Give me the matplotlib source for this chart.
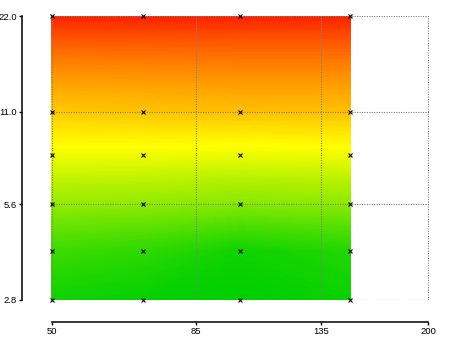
import numpy as np
import matplotlib
matplotlib.use("Agg")
import matplotlib.pyplot as plt
from matplotlib.colors import LinearSegmentedColormap

plt.rcParams['font.family'] = ['Liberation Sans', 'DejaVu Sans']

# sample grid
x_vals = [50, 70, 100, 150]
y_vals = [2.8, 4.0, 5.6, 8.0, 11.0, 22.0]
# surface value per row (y) and column (x), 0 = green, 1 = red
z_rows = [
    [0.03, 0.01, 0.00, 0.02],
    [0.12, 0.09, 0.03, 0.07],
    [0.29, 0.28, 0.26, 0.27],
    [0.47, 0.47, 0.46, 0.47],
    [0.62, 0.63, 0.64, 0.64],
    [0.99, 0.99, 0.99, 0.99],
]

x_ticks = [50, 85, 135, 200]
x_labels = ['50', '85', '135', '200']
y_ticks = [2.8, 5.6, 11.0, 22.0]
y_labels = ['2.8', '5.6', '11.0', '22.0']

cmap = LinearSegmentedColormap.from_list(
    'gyr', [(0.0, (0/255, 208/255, 0)), (0.5, (1, 1, 0)), (1.0, (1, 30/255, 0))])

fig = plt.figure(figsize=(4.5, 3.37), dpi=100)
ax = fig.add_axes([51/450, 37/337, 378/450, 284/337])
ax.set_xscale('log')
ax.set_yscale('log')

X, Y = np.meshgrid(x_vals, y_vals)
Z = np.array(z_rows)
ax.contourf(X, Y, Z, levels=np.linspace(0, 1, 201), cmap=cmap,
            vmin=0, vmax=1, antialiased=False, zorder=1)

ax.plot(X.ravel(), Y.ravel(), 'kx', ms=2.5, mew=0.8, zorder=4, clip_on=False)

# small margin so the edge grid lines are not clipped
ax.set_xlim(49.9, 200.5)
ax.set_ylim(2.796, 22.03)
ax.set_xticks(x_ticks)
ax.set_xticklabels(x_labels)
ax.set_yticks(y_ticks)
ax.set_yticklabels(y_labels)
ax.minorticks_off()

ax.grid(True, color='#808080', linestyle=(0, (1, 1.2)), linewidth=0.8, zorder=3)
ax.set_axisbelow(False)

for s in ['top', 'right']:
    ax.spines[s].set_visible(False)
ax.spines['left'].set_position(('outward', 21))
ax.spines['bottom'].set_position(('outward', 16))
ax.spines['left'].set_bounds(2.8, 22.0)
ax.spines['bottom'].set_bounds(50, 200)
ax.spines['left'].set_linewidth(1.1)
ax.spines['bottom'].set_linewidth(1.1)
ax.tick_params(length=2, width=1, labelsize=6.8, pad=1.5)

fig.savefig('out.png', dpi=100)
